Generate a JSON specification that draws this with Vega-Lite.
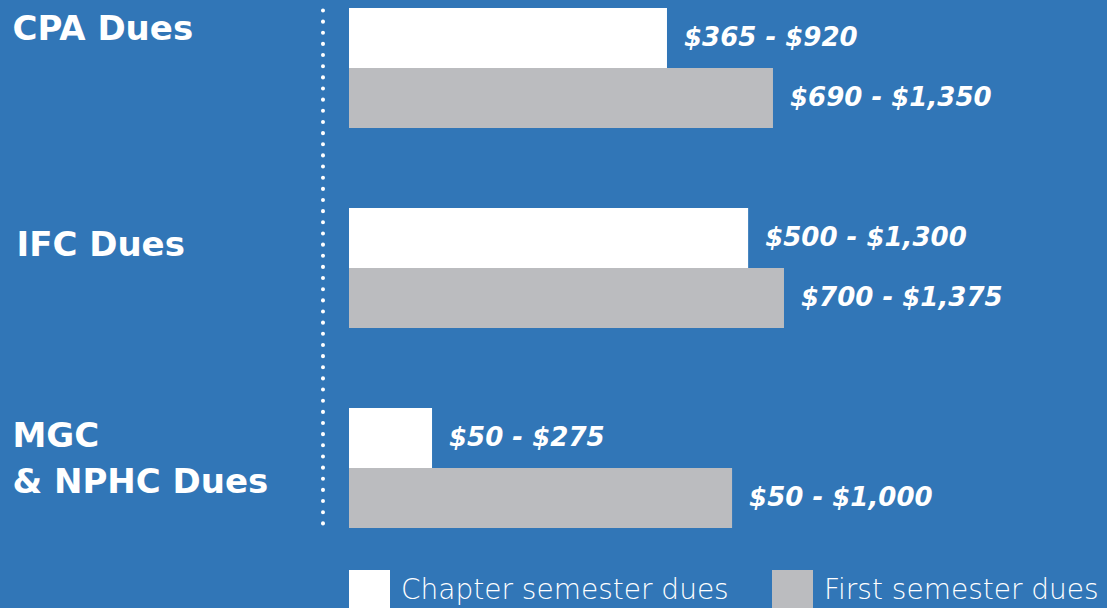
{
  "$schema": "https://vega.github.io/schema/vega-lite/v6.json",
  "width": 758,
  "height": 608,
  "autosize": {"type": "none"},
  "padding": {"left": 349, "top": 0, "right": 0, "bottom": 0},
  "background": "#3176b7",
  "config": {"view": {"stroke": null}},
  "data": {"values": [
    {"group": "CPA Dues", "series": "Chapter semester dues", "bar": 1011, "label": "$365 - $920"},
    {"group": "CPA Dues", "series": "First semester dues", "bar": 1348, "label": "$690 - $1,350"},
    {"group": "IFC Dues", "series": "Chapter semester dues", "bar": 1269, "label": "$500 - $1,300"},
    {"group": "IFC Dues", "series": "First semester dues", "bar": 1383, "label": "$700 - $1,375"},
    {"group": "MGC & NPHC Dues", "series": "Chapter semester dues", "bar": 264, "label": "$50 - $275"},
    {"group": "MGC & NPHC Dues", "series": "First semester dues", "bar": 1218, "label": "$50 - $1,000"}
  ]},
  "layer": [
    {
      "mark": {"type": "bar"},
      "encoding": {
        "y": {
          "field": "group", "type": "nominal", "sort": null,
          "scale": {"paddingInner": 0.4, "paddingOuter": 0.22, "align": 0.0909},
          "axis": {
            "title": null, "domain": false, "ticks": false, "tickSize": 0, "grid": false,
            "labelAlign": "left", "labelBaseline": "middle",
            "labelPadding": {"condition": {"test": "datum.value == 'IFC Dues'", "value": 333}, "value": 337},
            "labelOffset": {"condition": [{"test": "datum.value == 'CPA Dues'", "value": -38}, {"test": "datum.value == 'IFC Dues'", "value": -22}], "value": -31},
            "labelFont": "DejaVu Sans", "labelFontWeight": "bold", "labelFontSize": 34,
            "labelColor": "white", "labelLimit": 0, "labelLineHeight": 46,
            "labelExpr": "datum.value == 'MGC & NPHC Dues' ? ['MGC', '& NPHC Dues'] : datum.label"
          }
        },
        "yOffset": {"field": "series", "type": "nominal", "sort": null, "scale": {"paddingInner": 0, "paddingOuter": 0}},
        "x": {"field": "bar", "type": "quantitative", "scale": {"domain": [0, 2410], "nice": false, "zero": true}, "axis": null},
        "color": {
          "field": "series", "type": "nominal",
          "scale": {"domain": ["Chapter semester dues", "First semester dues"], "range": ["#ffffff", "#bbbcbf"]},
          "legend": {
            "orient": "none", "legendX": 0, "legendY": 570, "direction": "horizontal", "title": null,
            "symbolType": "square", "symbolSize": 1681, "symbolStrokeWidth": 0, "symbolOpacity": 1,
            "labelFont": "DejaVu Sans", "labelFontSize": 28, "labelFontWeight": 300, "labelColor": "white",
            "labelOffset": 11, "columnPadding": 43, "padding": 0, "labelLimit": 0
          }
        }
      }
    },
    {
      "mark": {"type": "text", "align": "left", "baseline": "middle", "dx": 17, "font": "DejaVu Sans", "fontStyle": "italic", "fontWeight": "bold", "fontSize": 26, "color": "white"},
      "encoding": {
        "y": {"field": "group", "type": "nominal", "sort": null},
        "yOffset": {"field": "series", "type": "nominal", "sort": null},
        "x": {"field": "bar", "type": "quantitative"},
        "text": {"field": "label"}
      }
    },
    {
      "data": {"values": [{"g1": "CPA Dues", "g2": "MGC & NPHC Dues"}]},
      "mark": {"type": "rule", "color": "white", "strokeWidth": 4, "strokeCap": "round", "strokeDash": [0.1, 11.05]},
      "encoding": {
        "x": {"datum": -82.7, "type": "quantitative"},
        "y": {"field": "g1", "type": "nominal", "bandPosition": 0.02},
        "y2": {"field": "g2", "bandPosition": 1}
      }
    }
  ]
}
